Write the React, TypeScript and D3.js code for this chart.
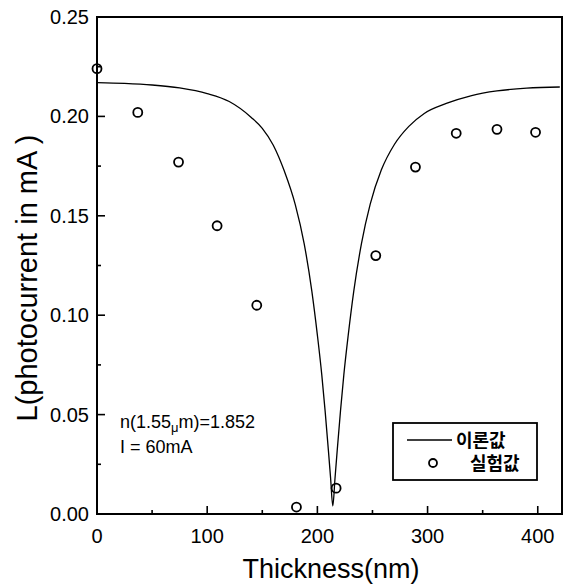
import React, { useEffect, useRef } from 'react';
import * as d3 from 'd3';

// measured (experimental) photocurrent, thickness in nm
const expThickness = [0, 37, 74, 109, 145, 181, 217, 253, 289, 326, 363, 398];
const expCurrent = [0.224, 0.202, 0.177, 0.145, 0.105, 0.0035, 0.013, 0.130, 0.1745, 0.1915, 0.1935, 0.192];

// theoretical curve
const theoryThickness = [0, 25, 50, 75, 100, 120, 140, 150, 160, 170, 180, 188, 195, 200, 204, 207, 210, 212, 214, 216, 218, 221, 224, 228, 233, 240, 248, 258, 270, 283, 297, 317, 340, 363, 390, 420];
const theoryCurrent = [0.217, 0.2166, 0.2158, 0.2143, 0.2115, 0.2075, 0.1995, 0.194, 0.1855, 0.1725, 0.1555, 0.136, 0.112, 0.09, 0.07, 0.052, 0.032, 0.018, 0.004, 0.018, 0.032, 0.052, 0.07, 0.09, 0.112, 0.136, 0.156, 0.173, 0.186, 0.195, 0.2015, 0.2065, 0.2105, 0.2128, 0.2142, 0.2148];

const xTicks = [0, 100, 200, 300, 400];
const xMinor = [50, 150, 250, 350];
const yTicks = [0, 0.05, 0.1, 0.15, 0.2, 0.25];
const yMinor = [0.025, 0.075, 0.125, 0.175, 0.225];

const legendLabels = ['이론값', '실험값'];
const noteLines = ['I = 60mA'];

const W = 566, H = 586;
const margin = { left: 97, right: 4, top: 17, bottom: 72 };
const LATIN = "'Liberation Sans', Arial, sans-serif";
const KOREAN = "'Noto Sans CJK KR', sans-serif";

function Chart() {
    const ref = useRef<SVGSVGElement>(null);

    useEffect(() => {
        const svg = d3.select(ref.current);
        svg.selectAll('*').remove();

        const x = d3.scaleLinear().domain([0, 422]).range([margin.left, W - margin.right]);
        const y = d3.scaleLinear().domain([0, 0.25]).range([H - margin.bottom, margin.top]);

        const x0 = x(0), x1 = x(422), y0 = y(0), y1 = y(0.25);

        // frame
        svg.append('rect')
            .attr('x', x0).attr('y', y1)
            .attr('width', x1 - x0).attr('height', y0 - y1)
            .attr('fill', 'none').attr('stroke', '#000').attr('stroke-width', 2);

        // ticks (inward)
        const g = svg.append('g').attr('stroke', '#000').attr('stroke-width', 1.6);
        xTicks.forEach(t => g.append('line').attr('x1', x(t)).attr('x2', x(t)).attr('y1', y0).attr('y2', y0 - 8));
        xMinor.forEach(t => g.append('line').attr('x1', x(t)).attr('x2', x(t)).attr('y1', y0).attr('y2', y0 - 4));
        yTicks.forEach(t => g.append('line').attr('x1', x0).attr('x2', x0 + 8).attr('y1', y(t)).attr('y2', y(t)));
        yMinor.forEach(t => g.append('line').attr('x1', x0).attr('x2', x0 + 4).attr('y1', y(t)).attr('y2', y(t)));

        // tick labels
        svg.append('g').selectAll('text').data(xTicks).join('text')
            .attr('x', d => x(d)).attr('y', y0 + 29)
            .attr('text-anchor', 'middle')
            .style('font-family', LATIN).style('font-size', '20px')
            .text(d => String(d));

        svg.append('g').selectAll('text').data(yTicks).join('text')
            .attr('x', x0 - 8).attr('y', d => y(d) + 7)
            .attr('text-anchor', 'end')
            .style('font-family', LATIN).style('font-size', '20px')
            .text(d => d3.format('.2f')(d));

        // axis titles
        svg.append('text')
            .attr('x', 331).attr('y', 578)
            .attr('text-anchor', 'middle')
            .style('font-family', LATIN).style('font-size', '27px')
            .text('Thickness(nm)');

        svg.append('text')
            .attr('transform', 'translate(37, 278) rotate(-90)')
            .attr('text-anchor', 'middle')
            .style('font-family', LATIN).style('font-size', '29px')
            .text('L(photocurrent in mA )');

        // theory curve
        const line = d3.line<number>()
            .x((d, i) => x(theoryThickness[i]))
            .y(d => y(d))
            .curve(d3.curveMonotoneX);

        svg.append('path')
            .datum(theoryCurrent)
            .attr('d', line)
            .attr('fill', 'none')
            .attr('stroke', '#000')
            .attr('stroke-width', 1.3);

        // experimental points
        svg.append('g').selectAll('circle').data(expCurrent).join('circle')
            .attr('cx', (d, i) => x(expThickness[i]))
            .attr('cy', d => y(d))
            .attr('r', 4.5)
            .attr('fill', 'none')
            .attr('stroke', '#000')
            .attr('stroke-width', 1.8);

        // annotation
        const note = svg.append('text')
            .attr('x', 120).attr('y', 428)
            .style('font-family', LATIN).style('font-size', '18px');
        note.append('tspan').text('n(1.55');
        note.append('tspan').attr('dy', 4).style('font-size', '13px').text('μ');
        note.append('tspan').attr('dy', -4).text('m)=1.852');

        svg.append('g').selectAll('text').data(noteLines).join('text')
            .attr('x', 120).attr('y', 453)
            .style('font-family', LATIN).style('font-size', '18px')
            .text(d => d);

        // legend
        const lg = svg.append('g');
        lg.append('rect')
            .attr('x', 393).attr('y', 423).attr('width', 144).attr('height', 57)
            .attr('fill', '#fff').attr('stroke', '#000').attr('stroke-width', 1.8);
        lg.append('line')
            .attr('x1', 407).attr('x2', 452).attr('y1', 440).attr('y2', 440)
            .attr('stroke', '#000').attr('stroke-width', 1.3);
        lg.append('circle')
            .attr('cx', 433).attr('cy', 463).attr('r', 4)
            .attr('fill', 'none').attr('stroke', '#000').attr('stroke-width', 1.8);
        lg.selectAll('text').data(legendLabels).join('text')
            .attr('x', (d, i) => (i === 0 ? 456 : 470))
            .attr('y', (d, i) => (i === 0 ? 447 : 470))
            .style('font-family', KOREAN).style('font-size', '18px').style('font-weight', 700)
            .text(d => d);
    }, []);

    return <svg ref={ref} width={W} height={H} style={{ position: 'absolute', left: 0, top: 0, background: '#fff' }}></svg>;
}

export default function App() {
    return <Chart />;
}
